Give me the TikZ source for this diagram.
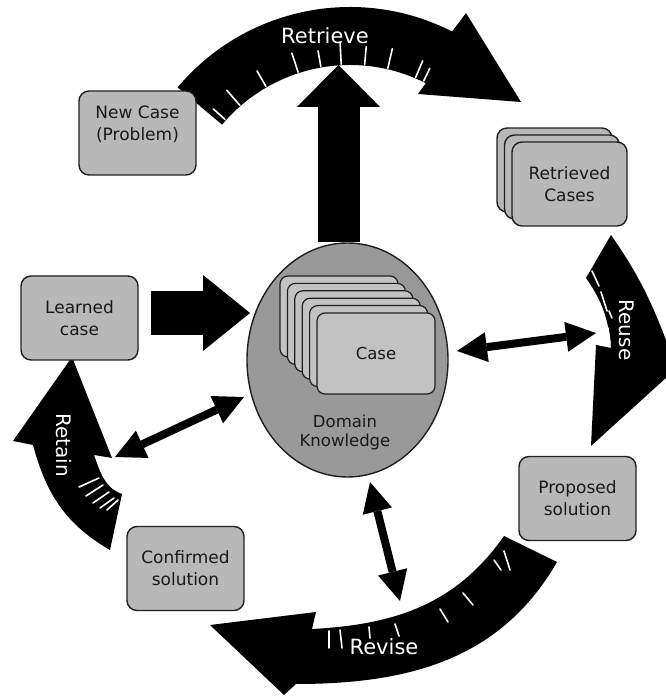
\documentclass[tikz,border=0pt]{standalone}
\usepackage{fontspec}
\setmainfont{DejaVu Sans}
\usetikzlibrary{arrows.meta,shapes.geometric}
\definecolor{boxgray}{gray}{0.72}
\definecolor{ellgray}{gray}{0.60}
\definecolor{cardgray}{gray}{0.76}
\definecolor{edgec}{gray}{0.12}
\definecolor{txt}{gray}{0.10}
\newcommand\boxfont{\fontsize{17}{22}\selectfont}
\newcommand\casefont{\fontsize{16.5}{20}\selectfont}
\newcommand\dkfont{\fontsize{16.5}{19}\selectfont}
\newcommand\lblfont{\fontsize{21}{24}\selectfont}
\newcommand\lblfontb{\fontsize{20}{24}\selectfont}
\begin{document}
\begin{tikzpicture}[x=1pt,y=1pt,
  box/.style={draw=edgec, line width=1.4pt, fill=boxgray, rounded corners=10pt,
    minimum width=117pt, minimum height=84pt, inner sep=0pt, align=center,
    font=\boxfont, text=txt},
  card/.style={draw=edgec, line width=1.2pt, fill=cardgray, rounded corners=8pt,
    minimum width=118pt, minimum height=81pt, inner sep=0pt, align=center,
    font=\casefont, text=txt},
  cycarrow/.style={fill=black},
  tickw/.style={draw=white, line width=1.6pt, line cap=round},
  lbl/.style={text=white, inner sep=0pt},
  blockup/.style={draw=black, line width=42pt,
    -{Triangle[length=42pt,width=83pt,line width=0pt]}},
  blockright/.style={draw=black, line width=44pt,
    -{Triangle[length=47pt,width=76pt,line width=0pt]}},
  dbl/.style={draw=black, line width=8pt,
    {Triangle[length=30pt,width=30pt,line width=0pt]}-{Triangle[length=30pt,width=30pt,line width=0pt]}}
]
\path[use as bounding box] (0,0) rectangle (666,697);
\clip (0,0) rectangle (666,697);
\fill[white] (0,0) rectangle (666,697);

% ---------------- Retrieve (top arc) ----------------
\coordinate (rtC) at (350,465);
\fill[cycarrow] ([shift={(140:225)}]rtC) arc[start angle=140,end angle=63,radius=225]
  -- (466,684) -- (521,595) -- (418,603) -- ([shift={(63:167)}]rtC)
  arc[start angle=63,end angle=140,radius=167] -- cycle;
\foreach \a/\l in {138/16,131/20,120/18,108/20,100/16,93/22,85/18,77/20,67/18,64/14}
  \draw[tickw] ([shift={(\a:168)}]rtC) -- ([shift={(\a:{168+\l})}]rtC);
\node[lbl, font=\lblfont] (tRetrieve) at (325,661) {Retrieve};

% ---------------- Reuse (right arc) ----------------
\fill[cycarrow] (611,462) to[out=-55,in=110] (676,330) -- (700,350) -- (591,251)
  -- (596,352) -- (611,349) to[out=95,in=-55] (586,419) -- cycle;
\draw[tickw] (592,426) -- (599,411);
\draw[tickw] (601,405) -- (607,386);
\draw[tickw] (609,386) -- (612,379);
\draw[tickw] (608,369) -- (610,354);
\node[lbl, font=\lblfontb, rotate=-90] (tReuse) at (627,367) {Reuse};

% ---------------- Revise (bottom arc) ----------------
\fill[cycarrow] (504,161) -- (557,135) to[out=240,in=0] (296,13) -- (284,2)
  -- (210,72) -- (316,85) -- (312,68) to[out=3,in=235] (504,161) -- cycle;
\draw[tickw] (329,66) -- (329,49);
\draw[tickw] (340,67) -- (342,49);
\draw[tickw] (369,70) -- (370,59);
\draw[tickw] (395,73) -- (399,61);
\draw[tickw] (440,88) -- (448,75);
\draw[tickw] (463,104) -- (473,92);
\draw[tickw] (494,137) -- (501,127);
\draw[tickw] (504,146) -- (510,127);
\node[lbl, font=\lblfont] (tRevise) at (384,50) {Revise};

% ---------------- Retain (left arc) ----------------
\fill[cycarrow] (72,340) -- (112,239) -- (94,242) to[out=-70,in=160] (122,203)
  -- (110,147) to[out=150,in=-75] (33,252) -- (13,256) -- cycle;
\draw[tickw] (79,210) -- (99,219);
\draw[tickw] (86,201) -- (103,212);
\draw[tickw] (93,194) -- (109,205);
\draw[tickw] (100,189) -- (114,199);
\draw[tickw] (107,187) -- (118,197);
\node[lbl, font=\lblfontb, rotate=-90] (tRetain) at (64,252) {Retain};

% ---------------- Domain knowledge ellipse with case cards ----------------
\node[ellipse, draw=edgec, line width=1.4pt, fill=ellgray, minimum width=201pt,
  minimum height=234pt, inner sep=0pt] (dk) at (347.5,337) {};
\node[card] (c5) at (339,380.5) {};
\node[card] (c4) at (346.4,373.1) {};
\node[card] (c3) at (353.8,365.7) {};
\node[card] (c2) at (361.2,358.3) {};
\node[card] (c1) at (368.6,350.9) {};
\node[card] (c0) at (376,343.5) {Case};
\node[font=\dkfont, text=txt, align=center] (dkt) at (345,265) {Domain\\Knowledge};

% ---------------- Boxes ----------------
\node[box] (nc) at (137.5,564) {New Case\\(Problem)\\[-2pt]\mbox{}};
\node[box, minimum width=115pt] (rc3) at (554.5,527) {};
\node[box, minimum width=115pt] (rc2) at (562,520) {};
\node[box, minimum width=115pt] (rc) at (569.5,513) {Retrieved\\Cases};
\node[box] (lc) at (79.5,379) {Learned\\case};
\node[box] (cs) at (185.5,128.5) {Confirmed\\solution};
\node[box] (ps) at (577.5,198.5) {Proposed\\solution};

% ---------------- Straight arrows ----------------
\coordinate (upE) at (338.5,632);
\draw[blockup] (dk.north -| upE) -- (upE);
\coordinate (laS) at (151,384);
\coordinate (laE) at (250,384);
\draw[blockright] (laS) -- (laE);
\coordinate (drA) at (457,346);
\coordinate (drB) at (596,364);
\draw[dbl] (drA) -- (drB);
\coordinate (dlA) at (115,240);
\coordinate (dlB) at (244,300);
\draw[dbl] (dlA) -- (dlB);
\coordinate (dbA) at (370,215);
\coordinate (dbB) at (400,96);
\draw[dbl] (dbA) -- (dbB);
\end{tikzpicture}
\end{document}
